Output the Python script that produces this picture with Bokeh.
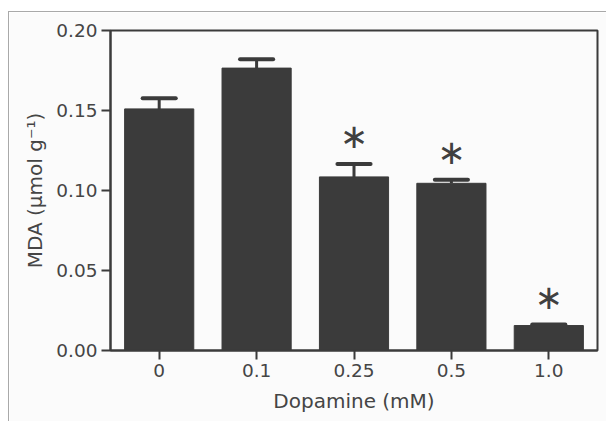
from bokeh.plotting import figure
from bokeh.models import Range1d, FixedTicker, ColumnDataSource
from bokeh.core.properties import value
from bokeh.embed import file_html
from bokeh.resources import INLINE

# ---- data ----
doses = ["0", "0.1", "0.25", "0.5", "1.0"]
mda = [0.151, 0.1765, 0.1085, 0.1045, 0.0156]
sem = [0.0066, 0.0055, 0.0080, 0.0022, 0.0006]
sig = ["", "", "*", "*", "*"]
y_ticks = [0.0, 0.05, 0.10, 0.15, 0.20]
y_tick_labels = ["0.00", "0.05", "0.10", "0.15", "0.20"]

xs = list(range(len(doses)))
tops = [m + s for m, s in zip(mda, sem)]

INK = "#3b3b3b"
TXT = "#454545"
BG = "#fbfbfb"
FONT = "DejaVu Sans"

p = figure(width=598, height=410, output_backend="svg", toolbar_location=None,
           x_range=Range1d(-0.5, 4.5), y_range=Range1d(0, 0.2),
           min_border_left=101, min_border_top=18, min_border_right=10,
           min_border_bottom=72,
           background_fill_color=BG, border_fill_color=BG,
           margin=(11, 0, 0, 8),
           styles={"border-left": "1px solid #a9a9a9", "border-top": "1px solid #a9a9a9"})

src = ColumnDataSource(dict(x=xs, mda=mda, top=tops,
                            lo=[x - 0.17 for x in xs], hi=[x + 0.17 for x in xs],
                            sig=[s.replace("*", "\u2217") for s in sig],
                            sy=[t + 0.0175 for t in tops]))

# error bars (stem + cap)
p.segment(x0="x", y0="mda", x1="x", y1="top", source=src, line_color=INK, line_width=3)
p.segment(x0="lo", y0="top", x1="hi", y1="top", source=src, line_color=INK,
          line_width=4, line_cap="round")
p.vbar(x="x", top="mda", bottom=0, width=0.71, source=src,
       fill_color=INK, line_color=INK)

p.text(x="x", y="sy", text="sig", source=src, text_font=value(FONT),
       text_font_size="34px", text_align="center", text_baseline="middle",
       text_color="#404040")

p.grid.visible = False
p.outline_line_color = INK
p.outline_line_width = 2

for ax in (p.xaxis[0], p.yaxis[0]):
    ax.axis_line_color = INK
    ax.axis_line_width = 2
    ax.major_tick_line_color = INK
    ax.major_tick_line_width = 2
    ax.major_tick_out = 9
    ax.major_tick_in = 0
    ax.minor_tick_line_color = None
    ax.major_label_text_font = FONT
    ax.major_label_text_font_size = "18.5px"
    ax.major_label_text_color = TXT
    ax.axis_label_text_font = FONT
    ax.axis_label_text_font_size = "20px"
    ax.axis_label_text_font_style = "normal"
    ax.axis_label_text_color = TXT

p.xaxis.ticker = FixedTicker(ticks=xs)
p.xaxis.major_label_overrides = {i: d for i, d in enumerate(doses)}
p.xaxis.axis_label = "Dopamine (mM)"
p.xaxis.major_label_standoff = 4
p.xaxis.axis_label_standoff = 9

p.yaxis.ticker = FixedTicker(ticks=y_ticks)
p.yaxis.major_label_overrides = {t: l for t, l in zip(y_ticks, y_tick_labels)}
p.yaxis.axis_label = "MDA (\u00b5mol g\u207b\u00b9)"
p.yaxis.major_label_standoff = 4
p.yaxis.axis_label_standoff = 6

open("out.html", "w").write(file_html(p, INLINE))
